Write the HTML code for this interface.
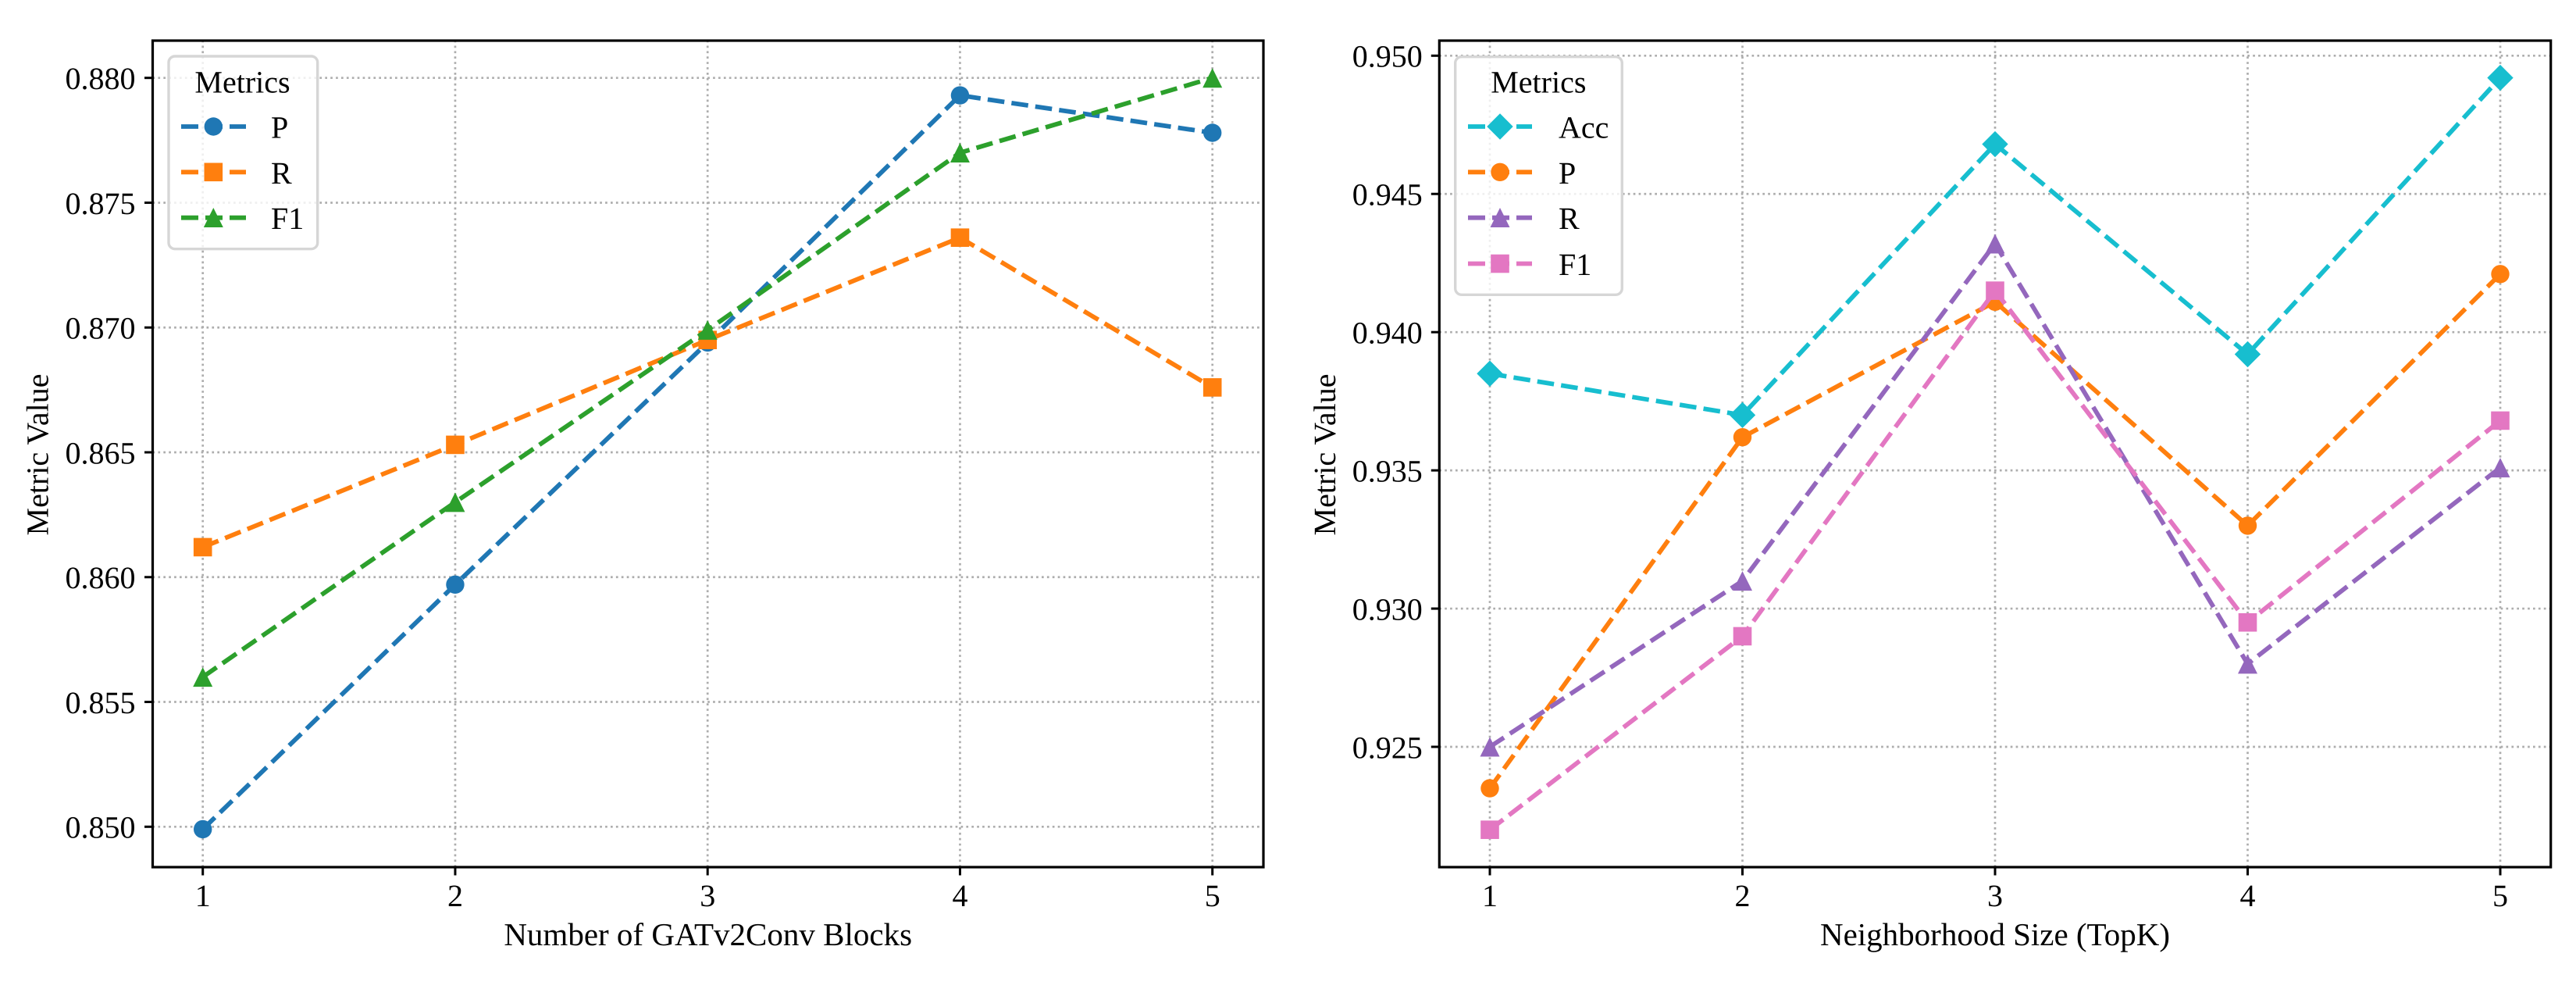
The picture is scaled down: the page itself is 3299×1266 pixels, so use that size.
<!DOCTYPE html>
<html lang="en">
<head>
<meta charset="utf-8">
<title>Metric value charts</title>
<style>
html,body{margin:0;padding:0;background:#fff;}
body{width:3299px;height:1266px;overflow:hidden;}
svg{display:block;}
text{font-family:"Liberation Serif","Times New Roman",serif;fill:#000;text-rendering:geometricPrecision;}
</style>
</head>
<body>
<svg id="figure" xmlns="http://www.w3.org/2000/svg" width="3299" height="1266" viewBox="0 0 3299 1266">
  <rect x="0" y="0" width="3299" height="1266" fill="#fff"/>

  <g id="blocks-panel">
    <g id="blocks-grid"></g>
    <g id="blocks-marks"></g>
    <rect x="195.5" y="52" width="1422.5" height="1058" fill="none" stroke="#000" stroke-width="3.2"/>
    <g id="blocks-ticks"></g>
    <text x="906.7" y="1210" font-size="41" text-anchor="middle">Number of GATv2Conv Blocks</text>
    <text transform="translate(61.7 582) rotate(-90)" font-size="40" text-anchor="middle">Metric Value</text>
    <g>
      <rect x="216" y="72" width="190.7" height="246.7" rx="8" fill="#fff" fill-opacity="0.8" stroke="#d6d6d6" stroke-width="3.4"/>
      <text x="310.5" y="118.3" font-size="40" text-anchor="middle">Metrics</text>
      <g>
        <line x1="232" y1="162" x2="315" y2="162" stroke="#1f77b4" stroke-width="5.8" stroke-dasharray="22 9"/>
        <circle cx="273.3" cy="162" r="11.7" fill="#1f77b4"/>
        <text x="347" y="176.7" font-size="40">P</text>
      </g>
      <g>
        <line x1="232" y1="220.3" x2="315" y2="220.3" stroke="#ff7f0e" stroke-width="5.8" stroke-dasharray="22 9"/>
        <rect x="261.5" y="208.5" width="23.6" height="23.6" fill="#ff7f0e"/>
        <text x="347" y="235" font-size="40">R</text>
      </g>
      <g>
        <line x1="232" y1="278.7" x2="315" y2="278.7" stroke="#2ca02c" stroke-width="5.8" stroke-dasharray="22 9"/>
        <polygon points="273.3,266 285.8,291 260.8,291" fill="#2ca02c"/>
        <text x="347" y="293" font-size="40">F1</text>
      </g>
    </g>
  </g>

  <g id="topk-panel">
    <g id="topk-grid"></g>
    <g id="topk-marks"></g>
    <rect x="1843.3" y="52" width="1423.4" height="1058" fill="none" stroke="#000" stroke-width="3.2"/>
    <g id="topk-ticks"></g>
    <text x="2555" y="1210" font-size="41" text-anchor="middle">Neighborhood Size (TopK)</text>
    <text transform="translate(1710 582) rotate(-90)" font-size="40" text-anchor="middle">Metric Value</text>
    <g>
      <rect x="1863.7" y="72.7" width="213.6" height="304.6" rx="8" fill="#fff" fill-opacity="0.8" stroke="#d6d6d6" stroke-width="3.4"/>
      <text x="1970.3" y="118.3" font-size="40" text-anchor="middle">Metrics</text>
      <g>
        <line x1="1880" y1="162" x2="1962" y2="162" stroke="#17becf" stroke-width="5.8" stroke-dasharray="22 9"/>
        <polygon points="1921,145.3 1937.7,162 1921,178.7 1904.3,162" fill="#17becf"/>
        <text x="1996" y="176.7" font-size="40">Acc</text>
      </g>
      <g>
        <line x1="1880" y1="220.3" x2="1962" y2="220.3" stroke="#ff7f0e" stroke-width="5.8" stroke-dasharray="22 9"/>
        <circle cx="1921" cy="220.3" r="11.7" fill="#ff7f0e"/>
        <text x="1996" y="235" font-size="40">P</text>
      </g>
      <g>
        <line x1="1880" y1="278.7" x2="1962" y2="278.7" stroke="#9467bd" stroke-width="5.8" stroke-dasharray="22 9"/>
        <polygon points="1921,266 1933.5,291 1908.5,291" fill="#9467bd"/>
        <text x="1996" y="293" font-size="40">R</text>
      </g>
      <g>
        <line x1="1880" y1="337.5" x2="1962" y2="337.5" stroke="#e377c2" stroke-width="5.8" stroke-dasharray="22 9"/>
        <rect x="1909.2" y="325.7" width="23.6" height="23.6" fill="#e377c2"/>
        <text x="1996" y="352" font-size="40">F1</text>
      </g>
    </g>
  </g>
</svg>

<script>
// Left chart data
const blocksCategories = [1, 2, 3, 4, 5];
const blocksTickLabels = ['0.850', '0.855', '0.860', '0.865', '0.870', '0.875', '0.880'];
const blocksP = [0.8499, 0.8597, 0.8694, 0.8793, 0.8778];
const blocksR = [0.8612, 0.8653, 0.8695, 0.8736, 0.8676];
const blocksF1 = [0.8560, 0.8630, 0.8699, 0.8770, 0.8800];

// Right chart data
const topkCategories = [1, 2, 3, 4, 5];
const topkTickLabels = ['0.925', '0.930', '0.935', '0.940', '0.945', '0.950'];
const topkAcc = [0.9385, 0.9370, 0.9468, 0.9392, 0.9492];
const topkP = [0.9235, 0.9362, 0.9411, 0.9330, 0.9421];
const topkR = [0.9250, 0.9310, 0.9432, 0.9280, 0.9351];
const topkF1 = [0.9220, 0.9290, 0.9415, 0.9295, 0.9368];

const NS = 'http://www.w3.org/2000/svg';

function make(tag, attrs, parent) {
  const el = document.createElementNS(NS, tag);
  for (const k in attrs) el.setAttribute(k, attrs[k]);
  parent.appendChild(el);
  return el;
}

function linearScale(d0, d1, r0, r1) {
  return function (v) { return r0 + (v - d0) * (r1 - r0) / (d1 - d0); };
}

function drawMarker(shape, cx, cy, color, parent) {
  const s = 11.8;
  let el;
  if (shape === 'circle') {
    el = make('circle', { cx: cx, cy: cy, r: 11.7, fill: color }, parent);
  } else if (shape === 'square') {
    el = make('rect', { x: cx - s, y: cy - s, width: 2 * s, height: 2 * s, fill: color }, parent);
  } else if (shape === 'triangle') {
    const h = 12.5;
    el = make('polygon', { points: cx + ',' + (cy - h) + ' ' + (cx + h) + ',' + (cy + h) + ' ' + (cx - h) + ',' + (cy + h), fill: color }, parent);
  } else {
    const d = 16.7;
    el = make('polygon', { points: cx + ',' + (cy - d) + ' ' + (cx + d) + ',' + cy + ' ' + cx + ',' + (cy + d) + ' ' + (cx - d) + ',' + cy, fill: color }, parent);
  }
  return el;
}

function drawSeries(name, values, categories, x, y, color, shape, parent) {
  const group = make('g', {}, parent);
  
  
  const pts = values.map(function (v, i) { return x(categories[i]) + ',' + y(v); }).join(' ');
  const line = make('polyline', {
    points: pts, fill: 'none', stroke: color, 'stroke-width': 5.8,
    'stroke-dasharray': '21.6 9.2', 'stroke-linejoin': 'round', 'stroke-linecap': 'butt'
  }, group);
  
  
  values.forEach(function (v, i) {
    const m = drawMarker(shape, x(categories[i]), y(v), color, group);
    
    
  });
}

function drawAxes(categories, tickLabels, x, y, box, labelRight, gridId, ticksId) {
  const grid = document.getElementById(gridId);
  const ticks = document.getElementById(ticksId);
  const gridStyle = { stroke: '#adadad', 'stroke-width': 2.7, 'stroke-dasharray': '2.7 4.2', fill: 'none' };
  categories.forEach(function (c) {
    const px = x(c);
    const g = make('line', Object.assign({ x1: px, y1: box.bottom, x2: px, y2: box.top }, gridStyle), grid);
    
    
    const t = make('line', { x1: px, y1: box.bottom, x2: px, y2: box.bottom + 10.5, stroke: '#000', 'stroke-width': 3 }, ticks);
    
    
    const l = make('text', { x: px, y: 1160, 'font-size': 40, 'text-anchor': 'middle' }, ticks);
    l.textContent = String(c);
    
    
  });
  tickLabels.forEach(function (label) {
    const py = y(parseFloat(label));
    const g = make('line', Object.assign({ x1: box.left, y1: py, x2: box.right, y2: py }, gridStyle), grid);
    
    
    const t = make('line', { x1: box.left - 10.5, y1: py, x2: box.left, y2: py, stroke: '#000', 'stroke-width': 3 }, ticks);
    
    
    const l = make('text', { x: labelRight, y: py + 14.3, 'font-size': 40, 'text-anchor': 'end' }, ticks);
    l.textContent = label;
    
    
  });
}

// Left chart
const blocksX = linearScale(1, 5, 259.7, 1552.7);
const blocksY = linearScale(0.85, 0.88, 1058.3, 99.7);
drawAxes(blocksCategories, blocksTickLabels, blocksX, blocksY,
  { left: 195.5, right: 1618, top: 52, bottom: 1110 }, 173.5, 'blocks-grid', 'blocks-ticks');
const blocksMarks = document.getElementById('blocks-marks');
drawSeries('p', blocksP, blocksCategories, blocksX, blocksY, '#1f77b4', 'circle', blocksMarks);
drawSeries('r', blocksR, blocksCategories, blocksX, blocksY, '#ff7f0e', 'square', blocksMarks);
drawSeries('f1', blocksF1, blocksCategories, blocksX, blocksY, '#2ca02c', 'triangle', blocksMarks);

// Right chart
const topkX = linearScale(1, 5, 1908, 3202);
const topkY = linearScale(0.925, 0.95, 956, 71.3);
drawAxes(topkCategories, topkTickLabels, topkX, topkY,
  { left: 1843.3, right: 3266.7, top: 52, bottom: 1110 }, 1821.7, 'topk-grid', 'topk-ticks');
const topkMarks = document.getElementById('topk-marks');
drawSeries('acc', topkAcc, topkCategories, topkX, topkY, '#17becf', 'diamond', topkMarks);
drawSeries('p', topkP, topkCategories, topkX, topkY, '#ff7f0e', 'circle', topkMarks);
drawSeries('r', topkR, topkCategories, topkX, topkY, '#9467bd', 'triangle', topkMarks);
drawSeries('f1', topkF1, topkCategories, topkX, topkY, '#e377c2', 'square', topkMarks);
</script>
</body>
</html>
